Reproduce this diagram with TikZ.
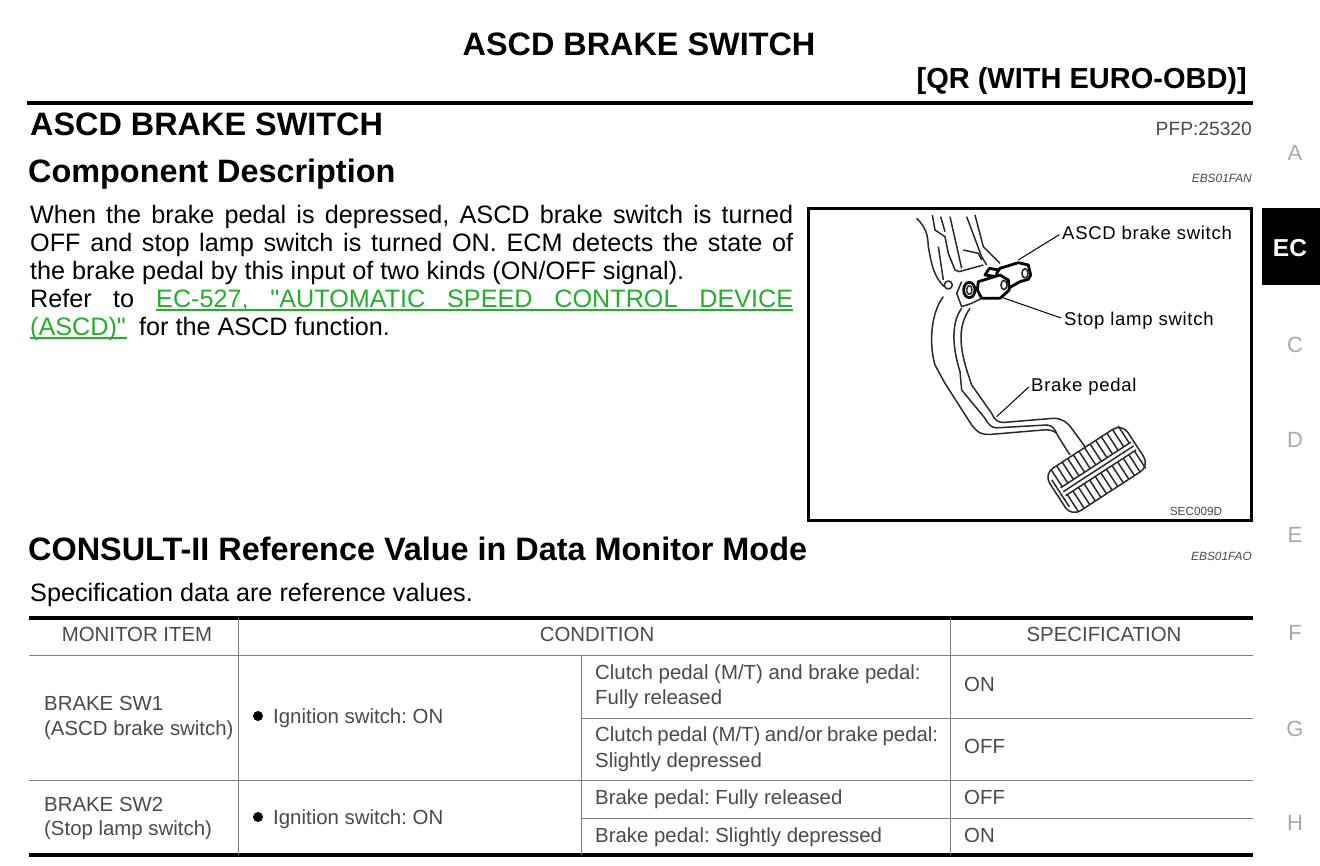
\documentclass[tikz,border=0pt]{standalone}
\usepackage{fontspec}
\setmainfont{Liberation Sans}
\newfontfamily\plainq{Liberation Sans}
\frenchspacing
\newcommand{\fs}[1]{\fontsize{#1}{#1}\selectfont}
\definecolor{tabtext}{HTML}{4A4A4A}
\definecolor{linkgreen}{HTML}{22B02A}
\definecolor{sidegray}{HTML}{A8A8A8}
\definecolor{tabrule}{HTML}{808080}
\definecolor{partline}{HTML}{2A2A2A}
\begin{document}
\begin{tikzpicture}[x=1pt, y=-1pt, inner sep=0pt,
    title/.style = {font=\fs{32.4}\bfseries, anchor=west, text height=23.2pt, text depth=0pt},
    body/.style = {font=\fs{25.2}, anchor=west, text height=18pt, text depth=0pt},
    code/.style = {font=\fs{11.9}\itshape, text=tabtext, anchor=east, text height=8.5pt, text depth=0pt},
    cell/.style = {font=\fs{20.4}, text=tabtext, anchor=west, text height=14.6pt, text depth=0pt},
    head/.style = {font=\fs{20.4}, text=tabtext, text height=14.6pt, text depth=0pt},
    side/.style = {font=\fs{22}, text=sidegray, text height=15.8pt, text depth=0pt},
    call/.style = {font=\fs{18.5}\addfontfeature{LetterSpace=4}, anchor=west, text height=13.2pt, text depth=0pt},
    lead/.style = {draw, line width=1pt, shorten <=3pt},
    part/.style = {draw=partline, line width=1.5pt, line join=round},
    sw/.style = {draw, line width=2.8pt, line join=round, fill=white},
    thinrule/.style = {draw=tabrule, line width=1pt},
    thickrule/.style = {draw=black, line width=3.2pt}]
    \useasboundingbox (0,0) rectangle (1320,865);
    \fill[white] (0,0) rectangle (1320,865);
    % page heading
    \node[title, anchor=center] (t0) at (639,44) {ASCD BRAKE SWITCH};
    \node[title, font=\fs{29}\bfseries, text height=20.8pt, anchor=east] (t1) at (1247,78) {[QR (WITH EURO-OBD)]};
    \draw[thickrule] (27,103) -- (1253,103);
    \node[title] (t2) at (30,124) {ASCD BRAKE SWITCH};
    \node[font=\fs{19.2}, text=tabtext, anchor=east, text height=13.8pt, text depth=0pt] (t3) at (1252,129) {PFP:25320};
    \node[title] (t4) at (28,171) {Component Description};
    \node[code] (c0) at (1252,178) {EBS01FAN};
    % description
    \node[body] (b0) at (30,214) {\hbox to 763pt{When the brake pedal is depressed, ASCD brake switch is turned}};
    \node[body] (b1) at (30,242) {\hbox to 763pt{OFF and stop lamp switch is turned ON. ECM detects the state of}};
    \node[body] (b2) at (30,270) {the brake pedal by this input of two kinds (ON/OFF signal).};
    \node[body] (b3) at (30,298) {\hbox to 104pt{Refer\hfill to}};
    \node[body, text=linkgreen] (l0) at (156,298) {\hbox to 637pt{EC-527,\hfill {\plainq"}AUTOMATIC\hfill SPEED\hfill CONTROL\hfill DEVICE}};
    \node[body, text=linkgreen] (l1) at (30,326) {(ASCD){\plainq"}};
    \node[body] (b4) at (139,326) {for the ASCD function.};
    \draw[linkgreen, line width=1.5pt] (156,310) -- (793,310);
    \draw[linkgreen, line width=1.5pt] (30,338) -- (127,338);
    % figure frame
    \draw[line width=3pt] (808,208) rectangle (1251,520);
    \begin{scope}[shift={(805,205)}, x=0.3333pt, y=-0.3333pt]
        % bracket
        \draw[part] (335,40) .. controls (365,70) and (368,90) .. (370,125) .. controls (378,170) and (385,215) .. (418,245);
        \draw[part] (382,30) -- (390,75) -- (420,95) -- (430,145) -- (450,195) -- (463,200) -- (535,180);
        \draw[part] (407,35) -- (420,80);
        \draw[part] (435,35) -- (470,190);
        \draw[part] (485,35) -- (530,155) -- (545,180);
        \draw[part] (510,30) -- (535,125) -- (585,175);
        \draw[part] (475,135) -- (520,145) -- (530,165);
        \draw[part] (400,125) -- (415,225);
        \draw[part] (430,240) circle (12);
        \draw[part] (470,230) -- (455,265) -- (470,305) -- (500,295) -- (530,280);
        % arm
        \draw[part] (415,275) .. controls (380,320) and (370,410) .. (390,480) -- (420,535) -- (500,660) .. controls (520,685) and (530,690) .. (560,688) -- (715,675) .. controls (735,672) and (750,680) .. (755,685);
        \draw[part] (470,310) .. controls (440,350) and (440,420) .. (465,500) -- (470,555) -- (540,640) .. controls (555,665) and (560,670) .. (585,668) -- (725,660) .. controls (745,660) and (750,675) .. (760,695) -- (795,750);
        \draw[part] (495,310) .. controls (460,360) and (460,420) .. (490,510) -- (500,540) -- (560,625) .. controls (570,645) and (575,653) .. (600,652) -- (745,640) .. controls (770,640) and (785,650) .. (800,670) -- (840,725);
        % pad
        \begin{scope}[shift={(875,795)}, rotate=33]
            \draw[part, fill=white, rounded corners=11pt] (-140,-76) rectangle (140,76);
            \draw[part] (-129,-48) -- (-129,48);
            \foreach \u in {-114,-94,...,130} {
                \draw[part] (\u,-76) -- (\u,-14);
                \draw[part] (\u,14) -- (\u,76);
            }
            \draw[part] (-120,-14) -- (132,-14);
            \draw[part] (-120,0) -- (132,0);
            \draw[part] (-120,14) -- (132,14);
        \end{scope}
        % switches
        \draw[sw] (553,190) -- (540,210) -- (575,215) -- (580,195) -- cycle;
        \draw[sw] (575,205) -- (585,190) -- (640,173) -- (670,180) -- (677,210) -- (670,223) -- (645,230) -- (615,247) -- (575,240) -- cycle;
        \draw[part, line width=1.6pt] (660,205) ellipse (9 and 14);
        \draw[sw] (520,230) -- (585,210) -- (610,225) -- (613,255) -- (585,280) -- (530,280) -- (517,255) -- cycle;
        \draw[part, line width=1.6pt] (597,240) ellipse (9 and 14);
        \draw[sw] (493,255) ellipse (17 and 23);
        \draw[part] (493,255) ellipse (8 and 13);
        % anchors for the leaders
        \coordinate (p0) at (640,165);
        \coordinate (p1) at (590,277);
        \coordinate (p2) at (575,635);
    \end{scope}
    \node[call] (n0) at (1062,233) {ASCD brake switch};
    \node[call] (n1) at (1064,319) {Stop lamp switch};
    \node[call] (n2) at (1031,385) {Brake pedal};
    \draw[lead] (n0.west) -- (p0);
    \draw[lead] (n1.west) -- (p1);
    \draw[lead] (n2.west) -- (p2);
    \node[code, font=\fs{11.8}, anchor=center] (c1) at (1196,511) {SEC009D};
    % data monitor section
    \node[title] (t5) at (28,549) {CONSULT-II Reference Value in Data Monitor Mode};
    \node[code] (c2) at (1252,556) {EBS01FAO};
    \node[body] (b5) at (30,592) {Specification data are reference values.};
    % table rules
    \draw[thickrule] (29,618) -- (1253,618);
    \draw[thickrule] (29,855) -- (1253,855);
    \draw[thinrule] (29,655) -- (1253,655);
    \draw[thinrule] (29,780) -- (1253,780);
    \draw[thinrule] (581,718) -- (1253,718);
    \draw[thinrule] (581,818) -- (1253,818);
    \draw[thinrule] (238,618) -- (238,855);
    \draw[thinrule] (581,655) -- (581,855);
    \draw[thinrule] (950,618) -- (950,855);
    % table text
    \node[head] (h0) at (137,634) {MONITOR ITEM};
    \node[head] (h1) at (597,634) {CONDITION};
    \node[head] (h2) at (1104,634) {SPECIFICATION};
    \node[cell] (a0) at (44,703) {BRAKE SW1};
    \node[cell] (a1) at (44,728) {(ASCD brake switch)};
    \node[cell] (a2) at (44,804) {BRAKE SW2};
    \node[cell] (a3) at (44,828) {(Stop lamp switch)};
    \node[cell] (d0) at (273,716) {Ignition switch: ON};
    \node[cell] (d1) at (273,817) {Ignition switch: ON};
    \fill[black] (258,716) circle (5);
    \fill[black] (258,817) circle (5);
    \node[cell] (e0) at (595,672) {Clutch pedal (M/T) and brake pedal:};
    \node[cell] (e1) at (595,697) {Fully released};
    \node[cell] (e2) at (595,734) {\hbox to 343pt{Clutch pedal (M/T) and/or brake pedal:}};
    \node[cell] (e3) at (595,760) {Slightly depressed};
    \node[cell] (e4) at (595,797) {Brake pedal: Fully released};
    \node[cell] (e5) at (595,835) {Brake pedal: Slightly depressed};
    \node[cell] (s0) at (964,684) {ON};
    \node[cell] (s1) at (964,746) {OFF};
    \node[cell] (s2) at (964,797) {OFF};
    \node[cell] (s3) at (964,835) {ON};
    % margin tabs
    \fill[black] (1262,208) rectangle (1320,285);
    \node[font=\fs{24.5}\bfseries, text=white, text height=17.6pt, text depth=0pt] (m1) at (1290,248) {EC};
    \node[side] (m0) at (1295,153) {A};
    \node[side] (m2) at (1295,345) {C};
    \node[side] (m3) at (1295,440) {D};
    \node[side] (m4) at (1295,535) {E};
    \node[side] (m5) at (1295,633) {F};
    \node[side] (m6) at (1295,729) {G};
    \node[side] (m7) at (1295,823) {H};
\end{tikzpicture}
\end{document}
